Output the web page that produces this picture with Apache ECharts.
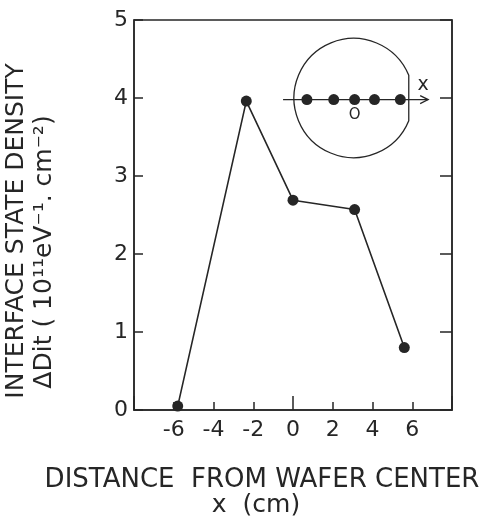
<!DOCTYPE html>
<html>
<head>
<meta charset="utf-8">
<script src="https://cdn.jsdelivr.net/npm/echarts@6/dist/echarts.min.js"></script>
<style>
  html, body { margin: 0; padding: 0; background: #fff; }
  #chart { width: 482px; height: 521px; }
</style>
</head>
<body>
<div id="chart"></div>
<script>
// ---- data ----
const xPositions = [-5.8, -2.35, 0, 3.1, 5.6];     // cm from wafer center
const ditValues  = [0.05, 3.96, 2.69, 2.57, 0.8];  // ΔDit (1e11 eV^-1 cm^-2)
const xTickLabels = ['-6', '-4', '-2', '0', '2', '4', '6'];
const yTickLabels = ['0', '1', '2', '3', '4', '5'];

// inset wafer sketch (in data units of the main axes)
const insetCenter = [3.05, 4];
const insetRadiusX = 3.0;               // radius expressed in x-axis units
const insetDotsX = [0.7, 2.05, 3.1, 4.1, 5.4];
const insetDotsY = [3.98, 3.98, 3.98, 3.98, 3.98];
const insetArrowX = [-0.5, 6.8];
const insetArrowY = 3.98;
const insetXLabelPos = [6.55, 4.16];
const insetOLabelPos = [3.1, 3.78];

const INK = '#262626';
const FONT = "'DejaVu Sans'";

const chart = echarts.init(document.getElementById('chart'), null, { renderer: 'canvas' });

const gridLeft = 134, gridTop = 20, gridW = 318, gridH = 390;

const option = {
  backgroundColor: '#fff',
  animation: false,
  grid: {
    left: gridLeft, top: gridTop, width: gridW, height: gridH,
    show: true, borderColor: INK, borderWidth: 1.5, backgroundColor: 'transparent'
  },
  xAxis: [
    {
      type: 'value', min: -8, max: 8, interval: 2,
      axisLine: { show: true, onZero: false, lineStyle: { color: INK, width: 1.5 } },
      axisTick: { show: true, inside: true, length: 8, lineStyle: { color: INK, width: 1.5 } },
      splitLine: { show: false },
      axisLabel: {
        color: INK, fontFamily: FONT, fontSize: 22, margin: 9,
        formatter: function (v) {
          const s = String(v);
          return xTickLabels.indexOf(s) >= 0 ? s : '';
        }
      }
    },
    {
      // long tick at x = 0
      type: 'value', min: -8, max: 8, interval: 8, position: 'bottom',
      axisLine: { show: false },
      axisTick: { show: true, inside: true, length: 14, lineStyle: { color: INK, width: 1.5 } },
      axisLabel: { show: false },
      splitLine: { show: false }
    }
  ],
  yAxis: [
    {
      type: 'value', min: 0, max: 5, interval: 1,
      axisLine: { show: true, onZero: false, lineStyle: { color: INK, width: 1.5 } },
      axisTick: { show: true, inside: true, length: 9, lineStyle: { color: INK, width: 1.5 } },
      splitLine: { show: false },
      axisLabel: {
        color: INK, fontFamily: FONT, fontSize: 22, margin: 6,
        formatter: function (v) {
          const s = String(v);
          return yTickLabels.indexOf(s) >= 0 ? s : '';
        }
      }
    },
    {
      type: 'value', min: 0, max: 5, interval: 1, position: 'right',
      axisLine: { show: true, onZero: false, lineStyle: { color: INK, width: 1.5 } },
      axisTick: { show: true, inside: true, length: 12, lineStyle: { color: INK, width: 1.5 } },
      axisLabel: { show: false },
      splitLine: { show: false }
    }
  ],
  graphic: [
    {
      type: 'text', x: 262, y: 480,
      style: {
        text: 'DISTANCE  FROM WAFER CENTER', fill: INK,
        font: '26px ' + FONT, textAlign: 'center', textVerticalAlign: 'middle'
      }
    },
    {
      type: 'text', x: 256, y: 505,
      style: {
        text: 'x  (cm)', fill: INK,
        font: '25px ' + FONT, textAlign: 'center', textVerticalAlign: 'middle'
      }
    },
    {
      type: 'text', x: 16, y: 231, rotation: Math.PI / 2,
      style: {
        text: 'INTERFACE STATE DENSITY', fill: INK,
        font: '25px ' + FONT, textAlign: 'center', textVerticalAlign: 'middle'
      }
    },
    {
      type: 'text', x: 44, y: 252, rotation: Math.PI / 2,
      style: {
        text: 'ΔDit ( 10¹¹eV⁻¹. cm⁻²)', fill: INK,
        font: '25px ' + FONT, textAlign: 'center', textVerticalAlign: 'middle'
      }
    }
  ],
  series: [
    {
      type: 'line',
      data: xPositions.map((x, i) => [x, ditValues[i]]),
      symbol: 'circle', symbolSize: 11,
      lineStyle: { color: INK, width: 1.6 },
      itemStyle: { color: INK, opacity: 1 },
      z: 5
    },
    {
      type: 'custom',
      data: [insetCenter],
      clip: false,
      renderItem: function (params, api) {
        const c = api.coord([api.value(0), api.value(1)]);
        const r = api.size([insetRadiusX, 0])[0];
        const dx = 0.925 * r;
        const dy = Math.sqrt(r * r - dx * dx);
        const path = 'M' + (c[0] + dx) + ' ' + (c[1] - dy) +
          ' A' + r + ' ' + r + ' 0 1 0 ' + (c[0] + dx) + ' ' + (c[1] + dy) + ' Z';
        const a0 = api.coord([insetArrowX[0], insetArrowY]);
        const a1 = api.coord([insetArrowX[1], insetArrowY]);
        const xl = api.coord(insetXLabelPos);
        const ol = api.coord(insetOLabelPos);
        return {
          type: 'group',
          children: [
            { type: 'path', shape: { pathData: path },
              style: { fill: 'none', stroke: INK, lineWidth: 1.3 } },
            { type: 'line', shape: { x1: a0[0], y1: a0[1], x2: a1[0], y2: a1[1] },
              style: { stroke: INK, lineWidth: 1.3 } },
            { type: 'polyline', shape: { points: [[a1[0] - 8, a1[1] - 4], [a1[0], a1[1]], [a1[0] - 8, a1[1] + 4]] },
              style: { fill: 'none', stroke: INK, lineWidth: 1.3 } },
            { type: 'text', x: xl[0], y: xl[1],
              style: { text: 'x', fill: INK, font: '19px ' + FONT, textAlign: 'center', textVerticalAlign: 'middle' } },
            { type: 'text', x: ol[0], y: ol[1],
              style: { text: 'O', fill: INK, font: '15px ' + FONT, textAlign: 'center', textVerticalAlign: 'middle' } }
          ]
        };
      },
      z: 3
    },
    {
      type: 'scatter',
      data: insetDotsX.map((x, i) => [x, insetDotsY[i]]),
      symbol: 'circle', symbolSize: 11,
      itemStyle: { color: INK, opacity: 1 },
      z: 4
    }
  ]
};

chart.setOption(option);
</script>
</body>
</html>
